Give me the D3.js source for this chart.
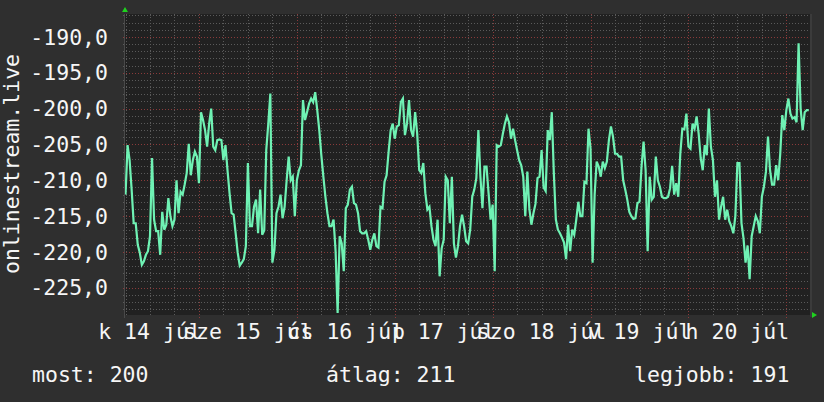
<!DOCTYPE html>
<html>
<head>
<meta charset="utf-8">
<script src="https://cdn.jsdelivr.net/npm/d3@7"></script>
<style>
  html, body { margin: 0; padding: 0; background: #2f2f2f; }
  .js-chart { width: 824px; height: 402px; }
  .js-chart text { font-family: "DejaVu Sans Mono", monospace; font-size: 21.5px; fill: #f6f6f6; }
</style>
</head>
<body>
<div class="js-chart"></div>
<script>
// The selector of the element into which we put the chart:
const chartSelector = ".js-chart";

// One reading every 30 minutes, the first one on 13 July 18:00.
const startTime = new Date(2020, 6, 13, 18, 0);
const stepMinutes = 30;
const signalValues = [
  -212, -205.1, -207.2, -211.3, -216, -216, -219, -220.1, -221.8, -221.3,
  -220.4, -219.9, -217.8, -206.9, -215.5, -217.1, -217.1, -220.4, -214.4, -216.9,
  -216.2, -212.5, -215, -216.4, -215.5, -210, -214.6, -211.6, -212, -210.6,
  -209, -204.9, -209.3, -207.2, -206, -206.7, -210.4, -200.5, -201.6, -203,
  -205.3, -202.1, -200, -205.3, -205.8, -204.4, -204.3, -204.4, -207.2, -205.1,
  -208.6, -211.8, -214.6, -214.8, -217.4, -220.1, -221.9, -221.5, -221, -219.2,
  -207.6, -216.4, -216.4, -213.7, -212.7, -217.4, -211.3, -217.6, -217, -205.8,
  -202.1, -197.9, -221.5, -219.7, -214.6, -213.7, -212, -215.3, -213.7, -210,
  -206.7, -210, -209.5, -215, -210, -208.6, -207.9, -198.8, -201.6, -200.5,
  -199.3, -198.6, -199.1, -197.7, -200.2, -203, -206.5, -209.5, -212.3, -214.6,
  -216.4, -216.4, -215.5, -219.9, -228.5, -217.8, -218.8, -222.7, -213.9, -213.4,
  -211.3, -210.9, -213.2, -213.4, -214.6, -217.1, -217.4, -217.4, -217.1, -218.3,
  -219.7, -218.3, -217.4, -219.2, -219.4, -213.7, -213.9, -210.2, -209.3, -206,
  -203, -202.1, -204.2, -202.5, -202.3, -199.1, -198.6, -203.7, -202.1, -198.8,
  -203, -203.9, -200.5, -203.5, -208.6, -209, -207.6, -211.8, -214.1, -213.7,
  -216.4, -218.3, -219.2, -215.5, -223.4, -219.5, -218.3, -209.5, -210, -216,
  -209.5, -218.8, -220.8, -219.2, -216.4, -214.8, -216.4, -218.5, -218.8, -216.9,
  -212.3, -211.3, -209.7, -203, -209.5, -213.9, -208.1, -208.1, -211.8, -215.5,
  -213.4, -222.7, -205.1, -205.3, -205.1, -203.5, -202.1, -201.1, -201.9, -204.2,
  -202.8, -204.4, -205.8, -207.2, -207.9, -209.5, -215, -208.8, -214, -216.2,
  -214.6, -213.3, -209.7, -209.5, -205.8, -211, -211.5, -203, -204.4, -200.5,
  -209, -215.5, -216.9, -217.4, -218, -218.7, -221, -216.2, -219.9, -216.9,
  -217.6, -215.5, -213, -215, -215, -210.2, -210.4, -202.8, -205.6, -221.5,
  -212, -207.4, -208.1, -209.5, -207.4, -208.3, -207.4, -204.4, -202.5, -203.9,
  -206.3, -206.3, -206.7, -206.7, -210, -211.3, -212.7, -214.4, -215, -215.4,
  -215.3, -213.2, -213, -208.1, -204.6, -208.6, -219.9, -209.5, -212.7, -212.3,
  -206.7, -210, -210.9, -212.3, -212.5, -212.5, -212.3, -211.1, -208, -212,
  -210.4, -212.3, -206.3, -202.8, -202.9, -200.7, -205.3, -205.6, -202.1, -202.8,
  -201.1, -203.5, -206.9, -208.6, -205.1, -206.5, -200, -205.3, -207.2, -212.3,
  -210, -215.5, -213.7, -212.3, -215.5, -214.1, -215.7, -216.4, -217.4, -215,
  -207.6, -207.6, -216, -218.1, -221.5, -219.1, -223.8, -217.8, -216.4, -215,
  -215.7, -217.4, -212.3, -210.9, -208.8, -203.9, -208.6, -210.6, -210.6, -207.9,
  -210, -206.3, -200.9, -203, -200.2, -198.6, -200.7, -201.4, -201.2, -201.9,
  -190.9, -200, -203, -200.5, -200.2, -200.2
];

// Day labels under the x axis, one per midnight from 14 July on.
const dayLabels = ["k 14 júl", "sze 15 júl", "cs 16 júl", "p 17 júl", "szo 18 júl", "v 19 júl", "h 20 júl"];
const yTickValues = [-225, -220, -215, -210, -205, -200, -195, -190];
const yTitle = "onlinestream.live";
const legendLabels = ["most", "átlag", "legjobb"];
const legendValues = [200, 211, 191];

const signalChart = (function () {
  "use strict";

  var publicAPIs = {};

  var svg = null;
  var x = null;
  var y = null;
  var plot = { left: 125, right: 810, top: 14, bottom: 315 };

  // Hyphen minus and decimal comma, as on the original.
  var locale = d3.formatLocale({
    decimal: ",", thousands: " ", grouping: [3], currency: ["", ""], minus: "-"
  });
  var tickFormat = locale.format(".1f");

  /**
   * Call this to draw everything.
   * @param {object} options Should have chartSelector.
   */
  publicAPIs.init = function (options) {
    var container = d3.select(options.chartSelector);
    svg = container.append("svg")
      .attr("width", 824)
      .attr("height", 402);

    initScales();
    drawBackground();
    drawGrid();
    drawLine();
    drawArrows();
    drawLabels();
    drawLegend();
  };

  var initScales = function () {
    var dayMs = 24 * 3600 * 1000;
    var firstLabel = new Date(2020, 6, 14);
    // 97.9 px per day, 14 July 00:00 sits at x = 150.
    var pxPerMs = 97.9 / dayMs;
    x = d3.scaleTime()
      .domain([
        new Date(+firstLabel - (150 - plot.left) / pxPerMs),
        new Date(+firstLabel + (plot.right - 150) / pxPerMs)
      ])
      .range([plot.left, plot.right]);

    y = d3.scaleLinear()
      .domain([-228.8, -186.8])
      .range([plot.bottom, plot.top]);
  };

  var drawBackground = function () {
    svg.append("rect")
      .attr("width", 824).attr("height", 402)
      .attr("fill", "#2f2f2f");
    svg.append("rect")
      .attr("x", plot.left).attr("y", plot.top)
      .attr("width", plot.right - plot.left)
      .attr("height", plot.bottom - plot.top)
      .attr("fill", "#212121");
    // light edge on the right, like the rrd frame
    svg.append("rect")
      .attr("x", plot.right).attr("y", plot.top)
      .attr("width", 2).attr("height", plot.bottom - plot.top + 2)
      .attr("fill", "#3b3b3b");
    svg.append("line")
      .attr("x1", plot.left - 0.5).attr("x2", plot.left - 0.5)
      .attr("y1", plot.top).attr("y2", plot.bottom + 3)
      .attr("stroke", "#4a4a4a");
  };

  var drawGrid = function () {
    var grid = svg.append("g").attr("shape-rendering", "crispEdges");
    var domain = x.domain();

    // minor: every 1 unit and every 6 hours
    var minorY = d3.range(-228, -186, 1).filter(function (v) { return v % 5 !== 0; });
    grid.selectAll(".minor-h").data(minorY).enter().append("line")
      .attr("x1", plot.left - 2).attr("x2", plot.right)
      .attr("y1", function (d) { return Math.round(y(d)) + 0.5; })
      .attr("y2", function (d) { return Math.round(y(d)) + 0.5; })
      .attr("stroke", "#5a5a5a").attr("stroke-dasharray", "1,2");

    var minorX = d3.timeHour.every(6).range(domain[0], domain[1])
      .filter(function (d) { return d.getHours() !== 12; });
    grid.selectAll(".minor-v").data(minorX).enter().append("line")
      .attr("x1", function (d) { return Math.round(x(d)) + 0.5; })
      .attr("x2", function (d) { return Math.round(x(d)) + 0.5; })
      .attr("y1", plot.top).attr("y2", plot.bottom + 2)
      .attr("stroke", "#5a5a5a").attr("stroke-dasharray", "1,2");

    // major: every 5 units and every noon
    grid.selectAll(".major-h").data(yTickValues).enter().append("line")
      .attr("x1", plot.left - 2).attr("x2", plot.right)
      .attr("y1", function (d) { return Math.round(y(d)) + 0.5; })
      .attr("y2", function (d) { return Math.round(y(d)) + 0.5; })
      .attr("stroke", "#8a3a3a").attr("stroke-dasharray", "1,2");

    var majorX = d3.timeHour.every(6).range(domain[0], domain[1])
      .filter(function (d) { return d.getHours() === 12; });
    grid.selectAll(".major-v").data(majorX).enter().append("line")
      .attr("x1", function (d) { return Math.round(x(d)) + 0.5; })
      .attr("x2", function (d) { return Math.round(x(d)) + 0.5; })
      .attr("y1", plot.top).attr("y2", plot.bottom + 3)
      .attr("stroke", "#8a3a3a").attr("stroke-dasharray", "1,2");
  };

  var drawLine = function () {
    svg.append("clipPath").attr("id", "plot-clip")
      .append("rect")
      .attr("x", plot.left).attr("y", plot.top - 1)
      .attr("width", plot.right - plot.left)
      .attr("height", plot.bottom - plot.top + 2);

    var line = d3.line()
      .x(function (d, i) { return x(d3.timeMinute.offset(startTime, i * stepMinutes)); })
      .y(function (d) { return y(d); });

    svg.append("path")
      .datum(signalValues)
      .attr("clip-path", "url(#plot-clip)")
      .attr("fill", "none")
      .attr("stroke", "#6ff2b4")
      .attr("stroke-width", 2.2)
      .attr("d", line);
  };

  var drawArrows = function () {
    svg.append("path")
      .attr("d", "M" + (plot.left - 3) + "," + (plot.top - 2) + "L" + (plot.left + 3) + "," + (plot.top - 2) + "L" + plot.left + "," + (plot.top - 7) + "Z")
      .attr("fill", "#1fd21f");
    svg.append("path")
      .attr("d", "M" + (plot.right + 2) + "," + (plot.bottom - 3) + "L" + (plot.right + 2) + "," + (plot.bottom + 3) + "L" + (plot.right + 7) + "," + plot.bottom + "Z")
      .attr("fill", "#1fd21f");
  };

  var drawLabels = function () {
    svg.selectAll(".y-label").data(yTickValues).enter().append("text")
      .attr("x", 108)
      .attr("y", function (d) { return y(d) + 7.7; })
      .attr("text-anchor", "end")
      .text(function (d) { return tickFormat(d); });

    var labelDays = d3.timeDay.range(new Date(2020, 6, 14), x.domain()[1]);
    svg.selectAll(".x-label").data(labelDays).enter().append("text")
      .attr("x", function (d) { return x(d); })
      .attr("y", 339)
      .attr("text-anchor", "middle")
      .text(function (d, i) { return dayLabels[i]; });

    svg.append("text")
      .attr("transform", "translate(19,164) rotate(-90)")
      .attr("text-anchor", "middle")
      .text(yTitle);
  };

  var drawLegend = function () {
    var xs = [32, 326, 634];
    svg.selectAll(".legend").data(legendLabels).enter().append("text")
      .attr("x", function (d, i) { return xs[i]; })
      .attr("y", 381.5)
      .text(function (d, i) { return d + ": " + legendValues[i]; });
  };

  return publicAPIs;
})();

if (d3 && document.querySelectorAll(chartSelector).length) {
  signalChart.init({ chartSelector: chartSelector });
}
</script>
</body>
</html>
